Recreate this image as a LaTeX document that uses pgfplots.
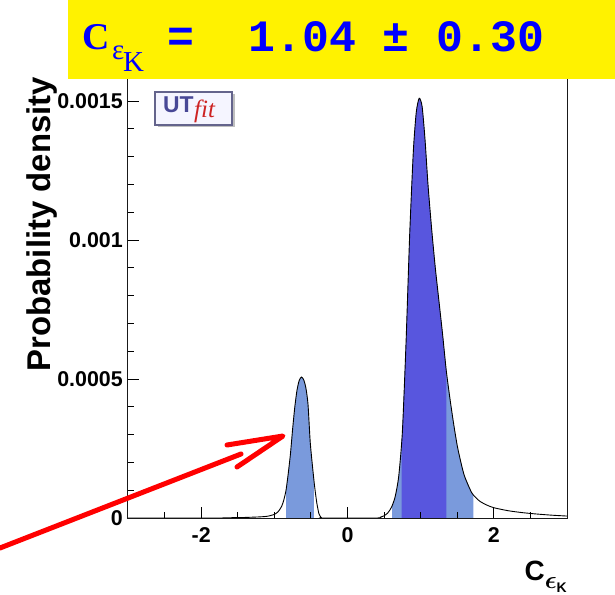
\documentclass[border=0pt]{standalone}
\usepackage{fontspec}
\setmainfont{Liberation Sans}
\setmonofont{Liberation Mono}
\newfontfamily\titleserif{Liberation Serif}
\usepackage{pgfplots}
\usepackage{pgfplotstable}
\pgfplotsset{compat=1.18}

\definecolor{bandlight}{RGB}{122,154,220}
\definecolor{banddark}{RGB}{88,86,222}
\definecolor{utblue}{RGB}{72,72,150}
\definecolor{utframe}{RGB}{100,100,140}
\definecolor{utred}{RGB}{205,35,35}

% posterior p.d.f. of C_epsK (y in units of 1e-4)
\pgfplotstableread{
x y
-3.00 0
-1.80 0
-1.60 0.01
-1.40 0.02
-1.20 0.04
-1.10 0.06
-1.05 0.09
-1.00 0.13
-0.95 0.22
-0.90 0.42
-0.87 0.65
-0.84 1.0
-0.81 1.6
-0.78 2.3
-0.75 3.2
-0.72 4.0
-0.69 4.6
-0.66 4.95
-0.63 5.07
-0.60 4.98
-0.57 4.7
-0.54 4.1
-0.51 2.75
-0.48 1.9
-0.45 1.15
-0.42 0.55
-0.39 0.15
-0.36 0.02
-0.33 0
0.40 0
0.45 0.03
0.50 0.08
0.55 0.18
0.60 0.38
0.65 0.75
0.70 1.5
0.75 3.1
0.80 6.3
0.85 10.2
0.90 13.2
0.94 14.6
0.98 15.1
1.02 14.8
1.06 13.6
1.10 12.0
1.15 10.4
1.20 9.0
1.25 7.8
1.30 6.6
1.35 5.3
1.40 4.3
1.45 3.4
1.50 2.6
1.55 2.0
1.60 1.5
1.70 0.9
1.80 0.62
1.90 0.47
2.00 0.37
2.20 0.26
2.40 0.19
2.60 0.14
2.80 0.10
3.00 0.07
}\pdfcurve

% 95% band, second solution
\pgfplotstableread{
x y
-0.84 1.0
-0.81 1.6
-0.78 2.3
-0.75 3.2
-0.72 4.0
-0.69 4.6
-0.66 4.95
-0.63 5.07
-0.60 4.98
-0.57 4.7
-0.54 4.1
-0.51 2.75
-0.48 1.9
-0.46 1.4
}\bandsmall

% 95% band, main solution
\pgfplotstableread{
x y
0.61 0.45
0.65 0.75
0.70 1.5
0.75 3.1
0.80 6.3
0.85 10.2
0.90 13.2
0.94 14.6
0.98 15.1
1.02 14.8
1.06 13.6
1.10 12.0
1.15 10.4
1.20 9.0
1.25 7.8
1.30 6.6
1.35 5.3
1.40 4.3
1.45 3.4
1.50 2.6
1.55 2.0
1.60 1.5
1.70 0.9
1.72 0.84
}\bandbig

% 68% band
\pgfplotstableread{
x y
0.74 2.8
0.75 3.1
0.80 6.3
0.85 10.2
0.90 13.2
0.94 14.6
0.98 15.1
1.02 14.8
1.06 13.6
1.10 12.0
1.15 10.4
1.20 9.0
1.25 7.8
1.30 6.6
1.35 5.3
}\bandcore

\begin{document}
\begin{tikzpicture}
\begin{axis}[
    at={(0,0)}, anchor=south west,
    scale only axis, width=439bp, height=443bp,
    xmin=-3, xmax=3, ymin=0, ymax=15.935,
    axis on top,
    axis line style={line width=1bp, black!90},
    xtick style={draw=black, line width=0.9bp},
    ytick style={draw=black, line width=0.9bp},
    tick align=inside, tick pos=left,
    major tick length=11bp, minor tick length=6bp,
    xtick={-2,0,2}, xticklabels={-2,0,2},
    minor xtick={-2.5,-1.5,-1,-0.5,0.5,1,1.5,2.5},
    ytick={0,5,10,15}, yticklabels={0,0.0005,0.001,0.0015},
    minor ytick={1,2,3,4,6,7,8,9,11,12,13,14},
    ticklabel style={font=\fontsize{21.5}{21.5}\selectfont\bfseries},
    xticklabel style={inner sep=0pt, yshift=-9bp},
    yticklabel style={inner sep=0pt, xshift=-5bp},
]
\addplot[fill=bandlight, draw=none, smooth, tension=0.4] table {\bandsmall} \closedcycle;
\addplot[fill=bandlight, draw=none, smooth, tension=0.4] table {\bandbig} \closedcycle;
\addplot[fill=banddark, draw=none, smooth, tension=0.4] table {\bandcore} \closedcycle;
\addplot[black, line width=0.9bp, smooth, tension=0.4] table {\pdfcurve};
\end{axis}

% tick marks on the lower and left edges (same positions as the axis ticks)
\foreach \v in {-2,0,2}
  \draw[black, line width=0.9bp] ({(\v+3)*73.1667bp},0) -- ++(0,11bp);
\foreach \v in {-2.5,-1.5,-1,-0.5,0.5,1,1.5,2.5}
  \draw[black, line width=0.9bp] ({(\v+3)*73.1667bp},0) -- ++(0,6bp);
\foreach \v in {5,10,15}
  \draw[black, line width=0.9bp] (0,{\v*27.8005bp}) -- ++(11bp,0);
\foreach \v in {1,2,3,4,6,7,8,9,11,12,13,14}
  \draw[black, line width=0.9bp] (0,{\v*27.8005bp}) -- ++(6bp,0);

% axis titles
\node[rotate=90, anchor=base east, inner sep=0, font=\fontsize{33}{33}\selectfont\bfseries]
    at (-77bp,441bp) {Probability density};
\node[anchor=base east, inner sep=0] at (439bp,-62bp)
    {{\fontsize{28}{28}\selectfont\bfseries C}\raisebox{-8bp}{\fontsize{24}{24}\selectfont\boldmath$\epsilon$}\raisebox{-12bp}{\fontsize{14}{14}\selectfont\bfseries K}};

% UTfit logo
\fill[black!25] (29.5bp,390.5bp) rectangle (106.5bp,423.5bp);
\draw[line width=2.5bp, utframe, fill=white!96!blue] (27bp,393bp) rectangle (104bp,426bp);
\node[anchor=base west, inner sep=0, text=utblue, font=\fontsize{23}{23}\selectfont\bfseries] at (35bp,405bp) {UT};
\node[anchor=base west, inner sep=0, text=utred, font=\fontsize{25}{25}\selectfont\titleserif\itshape] at (66bp,400bp) {fit};

% result box
\fill[yellow] (-60bp,439bp) rectangle (487bp,518bp);
\node[anchor=base west, inner sep=0, text=blue, font=\fontsize{38}{38}\selectfont\titleserif\bfseries] at (-46bp,468bp) {C};
\node[anchor=base west, inner sep=0, text=blue, font=\fontsize{29}{29}\selectfont\titleserif] at (-16bp,458bp) {ε};
\node[anchor=base west, inner sep=0, text=blue, font=\fontsize{29}{29}\selectfont\titleserif] at (-5bp,446bp) {K};
\node[anchor=base west, inner sep=0, text=blue, font=\fontsize{45}{45}\selectfont\ttfamily\bfseries] at (39.5bp,466bp) {=~~1.04~±~0.30};

% arrow pointing at the second solution
\draw[red, line width=5bp, line cap=round, line join=round] (-128bp,-30bp) -- (113bp,64bp);
\draw[red, line width=5bp, line cap=round, line join=round] (99bp,73bp) -- (155bp,82bp) -- (109bp,51bp);

\pgfresetboundingbox
\path[use as bounding box] (-128bp,-77bp) rectangle (487bp,518bp);
\end{tikzpicture}
\end{document}
